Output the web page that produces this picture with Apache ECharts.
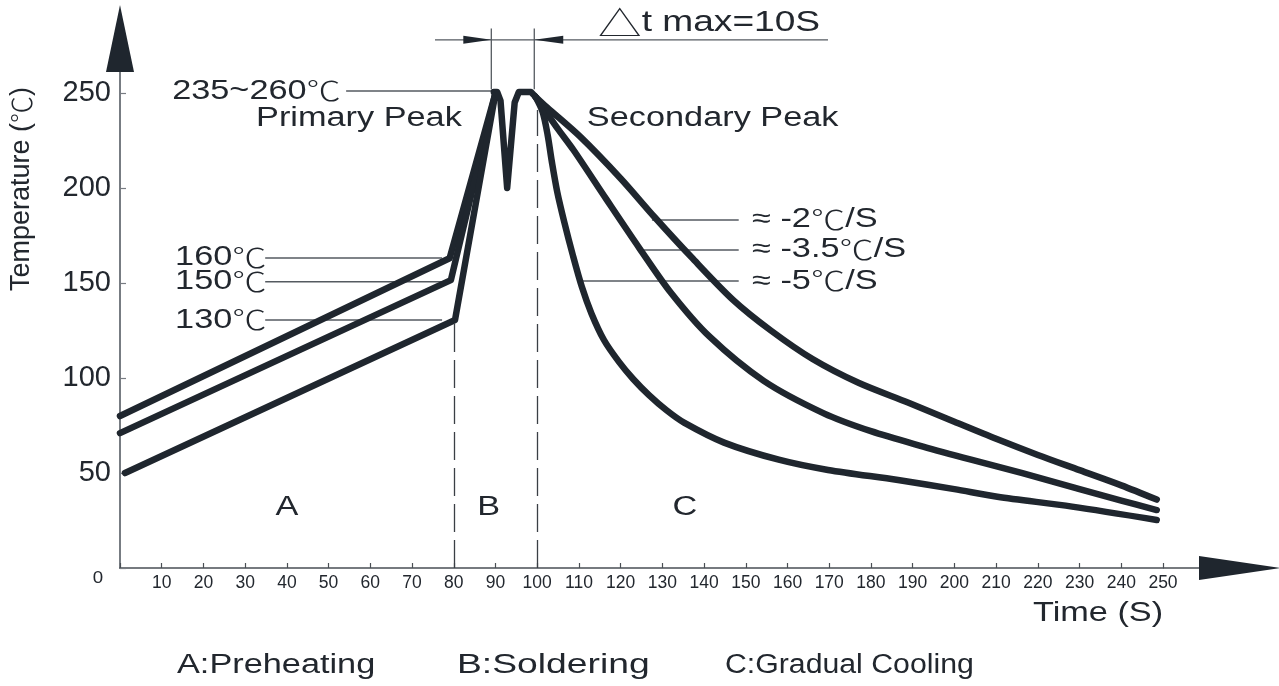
<!DOCTYPE html>
<html><head><meta charset="utf-8">
<script src="https://cdn.jsdelivr.net/npm/echarts@6/dist/echarts.min.js"></script>
<style>html,body{margin:0;padding:0;background:#fff}#c{width:1279px;height:686px}</style>
</head><body><div id="c"></div>
<script>
// ---- data (time s, temperature °C) ----
const preheat160 = [[0,80],[79,163],[90,250]];
const preheat150 = [[0,71],[79.3,151.5],[90,250]];
const preheat130 = [[1.2,50],[80.3,130.5],[90,250]];
const soldering = [[89.6,250.5],[90.4,250.5],[91.2,246],[92.8,200],[94.6,245],[95.6,250.5],[98.5,250.5],[99.6,248]];
const cool2 = [[99.6,248],[102.3,242.5],[110.3,227],[120,205],[128,185],[137,163.5],[147,141],[156,125],[166,110],[177,97.5],[189,87],[200,77],[210,68],[220,59.5],[230,51.5],[240,43.5],[248.5,36]];
const cool35 = [[99.6,248],[102.3,239.5],[105,231],[108.7,220],[116.6,194],[124.6,168],[132,145],[141.2,122],[154.3,98.5],[168.7,81.4],[180,72],[192.5,63.9],[204,57],[216.3,49.9],[230,41.5],[240,35.5],[248.5,30.5]];
const cool5 = [[99.6,248],[101.3,240],[102.5,228],[103.5,214],[104.8,198],[106.5,182],[108.5,165],[110.7,148],[113,134],[116,120],[119.6,108.5],[123,99.5],[126.8,91],[131,83],[135.2,76.5],[144.8,66],[157.9,57],[169.7,51.6],[186.5,46.3],[200,41.5],[210.3,37.5],[228.2,32.3],[248.5,25.3]];
const zoneBounds = [[80,128.5],[100,241]];
const peakLevelLabel = '235~260℃';
const preheatLabels = [['160℃',163.2],['150℃',150.7],['130℃',130.5]];
const coolLabels = [['≈ -2℃/S',183.2,127.5],['≈ -3.5℃/S',167.4,124],['≈ -5℃/S',151,110]];
const zoneLetters = [['A',40],['B',88.4],['C',135.4]];
const legendTexts = ['A:Preheating','B:Soldering','C:Gradual Cooling'];

const INK = '#1f262e', GREY = '#555a60', TXT = '#22272e';
const FONT = "'Liberation Sans', Arial, sans-serif";
const CJK = "'Noto Sans CJK SC', sans-serif";
const chart = echarts.init(document.getElementById('c'));
const lineS = (data, smooth) => ({
  type:'line', data, symbol:'none', smooth: smooth ? 0.3 : false,
  clip:false, silent:true,
  lineStyle:{color:INK, width:6.5, cap:'round', join:'round'}
});
const sold = lineS(soldering, false);
sold.markLine = {
  silent:true, symbol:'none', label:{show:false},
  lineStyle:{color:'#3a3f45', width:1.3, type:[28,8]},
  data: zoneBounds.map(b => [{coord:[b[0],0]},{coord:[b[0],b[1]]}])
};
chart.setOption({
  animation:false,
  backgroundColor:'#fff',
  grid:{left:120, right:116, top:93, bottom:118},
  xAxis:{type:'value', min:0, max:250, interval:10,
    axisLine:{lineStyle:{color:'#4a4f55', width:1.6}},
    axisTick:{inside:true, length:5, lineStyle:{color:'#4a4f55', width:1.2}},
    axisLabel:{formatter:v => v===0 ? '' : v, fontSize:17.5, color:TXT, margin:6, fontFamily:FONT},
    splitLine:{show:false}},
  yAxis:{type:'value', min:0, max:250, interval:50,
    axisLine:{show:true, lineStyle:{color:'#777c82', width:2}},
    axisTick:{show:true, inside:true, length:6, lineStyle:{color:'#777c82', width:1.2}},
    axisLabel:{formatter:v => v===0 ? '' : v, fontSize:29, color:TXT, margin:9, fontFamily:FONT},
    splitLine:{show:false}},
  series:[lineS(preheat160), lineS(preheat150), lineS(preheat130), sold,
          lineS(cool2,true), lineS(cool35,true), lineS(cool5,true)]
});

const P = (x,y) => chart.convertToPixel({gridIndex:0},[x,y]);
const g = [];
const ln = (a,b,w,c) => g.push({type:'line', silent:true, shape:{x1:a[0],y1:a[1],x2:b[0],y2:b[1]}, style:{stroke:c||GREY, lineWidth:w||1.5}});
const tx = (t,p,o) => { o=o||{}; const fs=o.fs||27;
  g.push({type:'text', silent:true, x:p[0], y:p[1], scaleX:o.sx||1.27, rotation:o.rot||0,
  style:{text:t.replace(/℃/g,'{c|℃}'), fill:TXT, fontSize:fs, fontFamily:FONT, align:o.align||'left', verticalAlign:'middle',
    rich:{c:{fontFamily:CJK, fontSize:fs, fill:TXT, fontWeight:300}}}}); };

// axis extensions and arrowheads
const yTop = P(0,250), xEnd = P(250,0);
ln(yTop,[yTop[0],yTop[1]-21],2,'#777c82');
g.push({type:'polygon', silent:true, shape:{points:[[yTop[0]-14,yTop[1]-21],[yTop[0]+14,yTop[1]-21],[yTop[0],yTop[1]-88]]}, style:{fill:INK}});
ln(xEnd,[xEnd[0]+37,xEnd[1]],1.6,'#4a4f55');
g.push({type:'polygon', silent:true, shape:{points:[[xEnd[0]+36,xEnd[1]-12],[xEnd[0]+36,xEnd[1]+12],[xEnd[0]+117,xEnd[1]]]}, style:{fill:INK}});

// leaders
ln(P(54.2,251),P(89,251));
preheatLabels.forEach(l => ln(P(34.8,l[1]),P(77.2,l[1])));
coolLabels.forEach(l => ln(P(l[2],l[1]),P(148.3,l[1])));
// delta t markers
ln(P(89,252),P(89,284),1.3); ln(P(99.3,252),P(99.3,284),1.3);
ln(P(75.5,278),P(169.7,278),1.3);
const a1 = P(89,278), a2 = P(99.3,278);
g.push({type:'polygon', silent:true, shape:{points:[[a1[0]-28,a1[1]-4],[a1[0]-28,a1[1]+4],[a1[0],a1[1]]]}, style:{fill:INK}});
g.push({type:'polygon', silent:true, shape:{points:[[a2[0]+29,a2[1]-4],[a2[0]+29,a2[1]+4],[a2[0],a2[1]]]}, style:{fill:INK}});

// texts
g.push({type:'text', silent:true, x:P(114.6,286.8)[0], y:P(114.6,286.8)[1],
  style:{text:'{t|△}{r|t max=10S}', fill:TXT, verticalAlign:'middle', align:'left',
    rich:{t:{fontFamily:CJK, fontSize:34, fill:TXT, fontWeight:300}, r:{fontFamily:FONT, fontSize:29, fill:TXT}}}, scaleX:1.28});
tx(peakLevelLabel, P(12.5,251));
tx('Primary Peak', P(32.6,236.3));
tx('Secondary Peak', P(111.9,236.3));
preheatLabels.forEach(l => tx(l[0], P(13.2,l[1])));
coolLabels.forEach(l => tx(l[0], P(151.5,l[1])));
zoneLetters.forEach(l => tx(l[0], P(l[1],31.6), {align:'center'}));
tx('0', [98,578], {fs:17, sx:1.1, align:'center'});
tx('Time (S)', [1033,614]);
tx('Temperature (℃)', [22,189], {sx:1, rot:Math.PI/2, align:'center'});
tx(legendTexts[0], [177,666]);
tx(legendTexts[1], [457,666], {sx:1.38});
tx(legendTexts[2], [725,666], {sx:1.12});
chart.setOption({graphic:g});
</script></body></html>
